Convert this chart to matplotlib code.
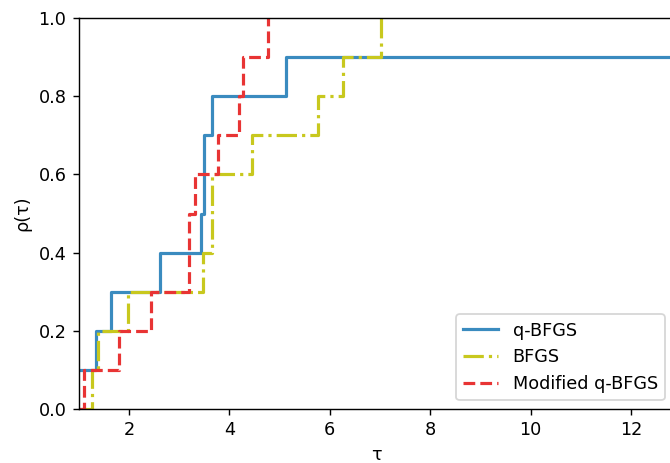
import matplotlib
matplotlib.use("Agg")
import matplotlib.pyplot as plt

# performance profile data (tau breakpoints and fraction of problems solved)
tau_qbfgs = [1.0, 1.35, 1.65, 2.61, 3.44, 3.50, 3.66, 5.13, 12.85]
rho_qbfgs = [0.1, 0.2, 0.3, 0.4, 0.5, 0.7, 0.8, 0.9, 0.9]

tau_bfgs = [1.0, 1.27, 1.38, 1.98, 3.47, 3.66, 4.45, 5.76, 6.27, 7.02]
rho_bfgs = [0.0, 0.1, 0.2, 0.3, 0.4, 0.6, 0.7, 0.8, 0.9, 1.0]

tau_mod = [1.0, 1.10, 1.81, 2.44, 3.19, 3.32, 3.78, 4.19, 4.28, 4.76]
rho_mod = [0.0, 0.1, 0.2, 0.3, 0.5, 0.6, 0.7, 0.8, 0.9, 1.0]

labels = ["q-BFGS", "BFGS", "Modified q-BFGS"]

# le rendu de référence est plus gros qu'à 100 dpi -> 127 dpi
dpi = 127
fig = plt.figure(figsize=(670 / dpi, 463 / dpi), dpi=dpi)
ax = fig.add_axes([0.1175, 0.1166, 0.888, 0.8444])

ax.step(tau_qbfgs, rho_qbfgs, where="post", color="#3a8bbf", linestyle="-", linewidth=1.8, label=labels[0])
ax.step(tau_bfgs, rho_bfgs, where="post", color="#c8c81e", linestyle="-.", linewidth=1.8, label=labels[1])
ax.step(tau_mod, rho_mod, where="post", color="#e83434", linestyle="--", linewidth=1.8, label=labels[2])

ax.set_xlim(1, 12.85)
ax.set_ylim(0, 1)
ax.set_xticks([2, 4, 6, 8, 10, 12])
ax.set_yticks([0.0, 0.2, 0.4, 0.6, 0.8, 1.0])
ax.set_xlabel("τ")
ax.set_ylabel("ρ(τ)")
ax.legend(loc="lower right")

fig.savefig("out.png", dpi=dpi)
